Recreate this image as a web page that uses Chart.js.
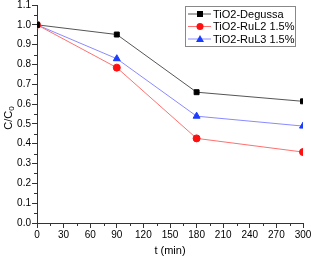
<!DOCTYPE html>
<html><head><meta charset="utf-8">
<script src="https://cdn.jsdelivr.net/npm/chart.js@4/dist/chart.umd.min.js"></script>
<style>html,body{margin:0;padding:0;background:#fff}#wrap{width:311px;height:258px}</style>
</head><body><div id="wrap"><canvas id="c" width="311" height="258"></canvas></div>
<script>
const times = [0, 90, 180, 300];
const degussa = [1.0, 0.951, 0.66, 0.614];
const ruL2 = [1.0, 0.784, 0.427, 0.358];
const ruL3 = [1.0, 0.829, 0.539, 0.489];
const seriesLabels = ['TiO2-Degussa', 'TiO2-RuL2 1.5%', 'TiO2-RuL3 1.5%'];
const xTitle = 't (min)';

const FONT = '"Liberation Sans", Arial, sans-serif';
const pts = arr => arr.map((v, i) => ({x: times[i], y: v}));

const minorTicks = {
  id: 'minorTicks',
  afterDraw(chart) {
    const ctx = chart.ctx, xs = chart.scales.x, ys = chart.scales.y, a = chart.chartArea;
    ctx.save();
    ctx.strokeStyle = '#333'; ctx.lineWidth = 1;
    ctx.beginPath();
    for (let v = 15; v < 300; v += 30) {
      const px = Math.round(xs.getPixelForValue(v)) + 0.5;
      ctx.moveTo(px, a.bottom); ctx.lineTo(px, a.bottom + 3);
    }
    for (let v = 0.05; v < 1.1; v += 0.1) {
      const py = Math.round(ys.getPixelForValue(v)) + 0.5;
      ctx.moveTo(a.left, py); ctx.lineTo(a.left - 3, py);
    }
    ctx.stroke();
    // y title C/C0 with subscript
    ctx.translate(9, 118);
    ctx.rotate(-Math.PI / 2);
    ctx.fillStyle = '#000';
    ctx.font = '11px ' + FONT;
    ctx.textBaseline = 'middle';
    const w1 = ctx.measureText('C/C').width;
    ctx.font = '8px ' + FONT;
    const w2 = ctx.measureText('0').width;
    let sx = -(w1 + w2) / 2;
    ctx.font = '11px ' + FONT;
    ctx.fillText('C/C', sx, 0);
    ctx.font = '8px ' + FONT;
    ctx.fillText('0', sx + w1, 3);
    ctx.restore();

    // legend
    ctx.save();
    const lx = 185.5, ly = 6.5, lw = 110, lh = 40;
    ctx.strokeStyle = '#888'; ctx.lineWidth = 1;
    ctx.strokeRect(lx, ly, lw, lh);
    chart.data.datasets.forEach((ds, i) => {
      const y = 14 + i * 12.5;
      ctx.strokeStyle = ds.borderColor; ctx.lineWidth = 1;
      ctx.beginPath(); ctx.moveTo(188, y); ctx.lineTo(211, y); ctx.stroke();
      ctx.fillStyle = ds.pointBackgroundColor;
      const cx = 200;
      if (ds.pointStyle === 'rect') ctx.fillRect(cx - 3, y - 3, 6, 6);
      else if (ds.pointStyle === 'circle') { ctx.beginPath(); ctx.arc(cx, y, 3.5, 0, Math.PI * 2); ctx.fill(); }
      else { ctx.beginPath(); ctx.moveTo(cx, y - 4); ctx.lineTo(cx + 4, y + 3); ctx.lineTo(cx - 4, y + 3); ctx.closePath(); ctx.fill(); }
      ctx.fillStyle = '#000'; ctx.font = '11px ' + FONT; ctx.textBaseline = 'middle';
      ctx.fillText(ds.label, 213, y + 0.5);
    });
    ctx.restore();
  }
};

new Chart(document.getElementById('c'), {
  type: 'line',
  data: {
    datasets: [
      {label: seriesLabels[0], data: pts(degussa), borderColor: '#555555', backgroundColor: '#000', pointBackgroundColor: '#000', pointBorderColor: '#000', pointStyle: 'rect', pointRadius: 3.5, borderWidth: 1},
      {label: seriesLabels[1], data: pts(ruL2), borderColor: '#ff7070', backgroundColor: '#ff0000', pointBackgroundColor: '#ff1010', pointBorderColor: '#ff1010', pointStyle: 'circle', pointRadius: 3.5, borderWidth: 1},
      {label: seriesLabels[2], data: pts(ruL3), borderColor: '#8a8aff', backgroundColor: '#1a3cff', pointBackgroundColor: '#1a3cff', pointBorderColor: '#1a3cff', pointStyle: 'triangle', pointRadius: 4, borderWidth: 1}
    ]
  },
  options: {
    responsive: false, animation: false, devicePixelRatio: 1,
    layout: {padding: {left: 0, right: 8, top: 5, bottom: 0}},
    plugins: {legend: {display: false}, tooltip: {enabled: false}},
    scales: {
      x: {
        type: 'linear', min: 0, max: 300,
        ticks: {stepSize: 30, color: '#000', font: {family: FONT, size: 10}, padding: 1, maxRotation: 0},
        grid: {drawOnChartArea: false, tickLength: 5, color: '#333', tickColor: '#333'},
        border: {color: '#333', width: 1},
        title: {display: true, text: xTitle, color: '#000', font: {family: FONT, size: 11}, padding: {top: 2, bottom: 0}},
        afterFit(s) { s.height = 35; s.paddingRight = 0; s.paddingLeft = 0; }
      },
      y: {
        min: 0, max: 1.1,
        ticks: {stepSize: 0.1, color: '#000', font: {family: FONT, size: 10}, padding: 1, callback: v => v.toFixed(1)},
        grid: {drawOnChartArea: false, tickLength: 5, color: '#333', tickColor: '#333'},
        border: {color: '#333', width: 1},
        afterFit(s) { s.width = 37; s.paddingTop = 0; s.paddingBottom = 0; }
      }
    }
  },
  plugins: [minorTicks]
});
</script>
</body></html>
